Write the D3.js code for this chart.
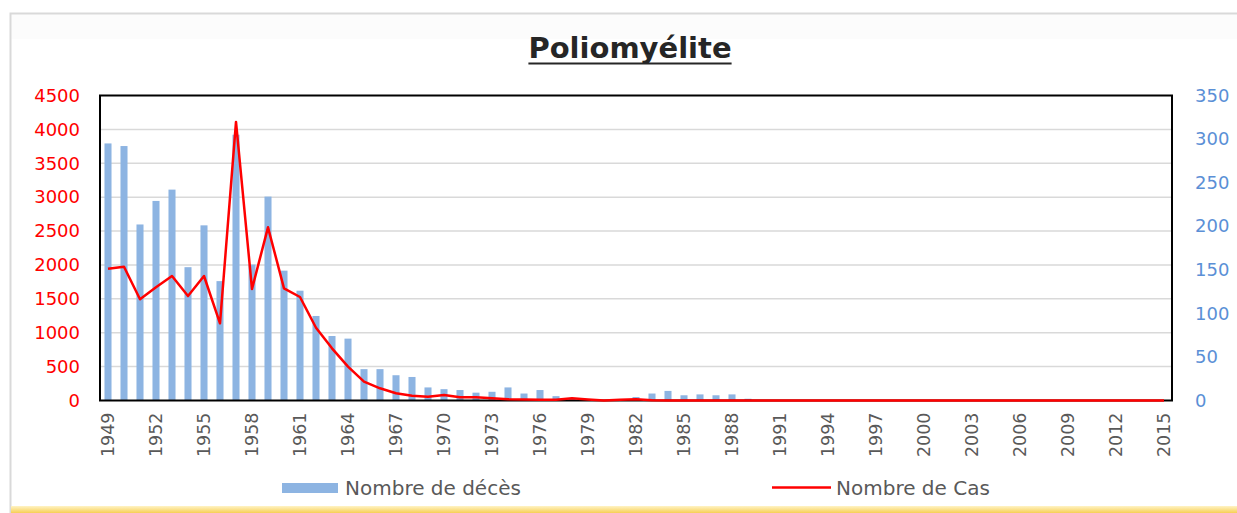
<!DOCTYPE html>
<html>
<head>
<meta charset="utf-8">
<script src="https://cdn.jsdelivr.net/npm/d3@7"></script>
<style>
    body { margin: 0; background: #fff; }
    svg { display: block; font-family: "DejaVu Sans", sans-serif; }
</style>
</head>
<body>
<div id="graph"></div>
<script>
/** Data. */
const YEARS = d3.range(1949, 2016);

// Nombre de décès (bars, right axis)
const DECES = [
    295, 292, 202, 229, 242, 153, 201, 137, 305, 156,
    234, 149, 126, 97, 74, 71, 36, 36, 29, 27,
    15, 13, 12, 9, 10, 15, 8, 12, 5, 2,
    1, 0, 1, 4, 8, 11, 6, 7, 6, 7,
    2, 0, 0, 0, 0, 0, 0, 0, 0, 0,
    0, 0, 0, 0, 0, 0, 0, 0, 0, 0,
    0, 0, 0, 0, 0, 0, 0
];

// Nombre de Cas (line, left axis)
const CAS = [
    1945, 1974, 1493, 1670, 1837, 1542, 1837, 1139, 4110, 1645,
    2555, 1655, 1527, 1074, 770, 499, 278, 180, 106, 71,
    56, 81, 47, 47, 32, 18, 15, 10, 10, 32,
    15, 0, 10, 18, 5, 0, 0, 0, 0, 0,
    0, 0, 0, 0, 0, 0, 0, 0, 0, 0,
    0, 0, 0, 0, 0, 0, 0, 0, 0, 0,
    0, 0, 0, 0, 0, 0, 0
];

const LEFT_TICKS = d3.range(0, 4501, 500);
const RIGHT_TICKS = d3.range(0, 351, 50);
const X_TICKS = YEARS.filter((y) => (y - 1949) % 3 === 0);

const TITLE = "Poliomyélite";
const LEGEND = ["Nombre de décès", "Nombre de Cas"];

/** Layout. */
const WIDTH = 1237;
const HEIGHT = 513;
const PLOT = {left: 100, right: 1172, top: 95.5, bottom: 400.5};

const BAR_COLOR = "#8db4e2";
const LINE_COLOR = "#ff0000";
const GRID_COLOR = "#d9d9d9";
const TEXT_COLOR = "#595959";
const RIGHT_COLOR = "#5b8fd6";

const x = d3.scaleBand()
    .domain(YEARS)
    .range([PLOT.left, PLOT.right])
    .paddingInner(0.56)
    .paddingOuter(0.28);
const yLeft = d3.scaleLinear()
    .domain([0, 4500])
    .range([PLOT.bottom, PLOT.top]);
const yRight = d3.scaleLinear()
    .domain([0, 350])
    .range([PLOT.bottom, PLOT.top]);

const svg = d3.select("#graph")
    .append("svg")
    .attr("width", WIDTH)
    .attr("height", HEIGHT);

// Background, outer frame and the yellow strip at the bottom.
const defs = svg.append("defs");
const grad = defs.append("linearGradient")
    .attr("id", "strip")
    .attr("x1", 0).attr("x2", 0).attr("y1", 0).attr("y2", 1);
grad.append("stop").attr("offset", "0%").attr("stop-color", "#fff3c4");
grad.append("stop").attr("offset", "100%").attr("stop-color", "#f7cf55");

svg.append("rect")
    .attr("width", WIDTH)
    .attr("height", HEIGHT)
    .attr("fill", "#fff");
svg.append("rect")
    .attr("x", 10).attr("y", 13)
    .attr("width", WIDTH + 10).attr("height", 26)
    .attr("fill", "#fcfcfc");
svg.append("path")
    .attr("d", `M10.5,${HEIGHT} V13.5 H${WIDTH}`)
    .attr("fill", "none")
    .attr("stroke", GRID_COLOR)
    .attr("stroke-width", 2);
svg.append("rect")
    .attr("x", 11).attr("y", 506)
    .attr("width", WIDTH).attr("height", 7)
    .attr("fill", "url(#strip)");

// Title
const title = svg.append("text")
    .attr("x", 630)
    .attr("y", 58)
    .attr("text-anchor", "middle")
    .attr("font-size", 29)
    .attr("font-weight", "bold")
    .attr("fill", "#262626")
    .text(TITLE);
const tb = title.node().getBBox();
svg.append("line")
    .attr("x1", tb.x).attr("x2", tb.x + tb.width)
    .attr("y1", 63.5).attr("y2", 63.5)
    .attr("stroke", "#262626")
    .attr("stroke-width", 2);

// Gridlines (left axis steps)
svg.append("g")
    .selectAll("line")
    .data(LEFT_TICKS.slice(1, -1))
    .join("line")
    .attr("x1", PLOT.left).attr("x2", PLOT.right)
    .attr("y1", (d) => yLeft(d)).attr("y2", (d) => yLeft(d))
    .attr("stroke", GRID_COLOR)
    .attr("stroke-width", 1.5);

// Bars
svg.append("g")
    .selectAll("rect")
    .data(YEARS.map((year, i) => ({year, v: DECES[i]})))
    .join("rect")
    .attr("x", (d) => x(d.year))
    .attr("width", x.bandwidth())
    .attr("y", (d) => yRight(d.v))
    .attr("height", (d) => yRight(0) - yRight(d.v))
    .attr("fill", BAR_COLOR);

// Frame
svg.append("rect")
    .attr("x", PLOT.left).attr("y", PLOT.top)
    .attr("width", PLOT.right - PLOT.left)
    .attr("height", PLOT.bottom - PLOT.top)
    .attr("fill", "none")
    .attr("stroke", "#000")
    .attr("stroke-width", 2);

// Line
const casLine = d3.line()
    .curve(d3.curveLinear)
    .x((d) => x(d.year) + x.bandwidth() / 2)
    .y((d) => yLeft(d.v));
svg.append("path")
    .datum(YEARS.map((year, i) => ({year, v: CAS[i]})))
    .attr("d", casLine)
    .attr("fill", "none")
    .attr("stroke", LINE_COLOR)
    .attr("stroke-width", 2.5)
    .attr("stroke-linejoin", "round");

// Axes
const leftAxis = d3.axisLeft(yLeft)
    .tickValues(LEFT_TICKS)
    .tickFormat(d3.format("d"))
    .tickSize(0)
    .tickPadding(20);
const gl = svg.append("g")
    .attr("transform", `translate(${PLOT.left},0)`)
    .call(leftAxis);
gl.select(".domain").remove();
gl.selectAll("text")
    .attr("font-size", 18)
    .attr("font-family", "DejaVu Sans")
    .attr("fill", LINE_COLOR);

const rightAxis = d3.axisRight(yRight)
    .tickValues(RIGHT_TICKS)
    .tickFormat(d3.format("d"))
    .tickSize(0)
    .tickPadding(23);
const gr = svg.append("g")
    .attr("transform", `translate(${PLOT.right},0)`)
    .call(rightAxis);
gr.select(".domain").remove();
gr.selectAll("text")
    .attr("font-size", 18)
    .attr("font-family", "DejaVu Sans")
    .attr("fill", RIGHT_COLOR);

const xAxis = d3.axisBottom(x)
    .tickValues(X_TICKS)
    .tickSize(0)
    .tickPadding(0);
const gx = svg.append("g")
    .attr("transform", `translate(0,${PLOT.bottom})`)
    .call(xAxis);
gx.select(".domain").remove();
gx.selectAll("text")
    .attr("font-size", 17.5)
    .attr("font-family", "DejaVu Sans")
    .attr("fill", TEXT_COLOR)
    .attr("text-anchor", "end")
    .attr("transform", "rotate(-90)")
    .attr("x", -12)
    .attr("y", 0)
    .attr("dy", "0.35em");

// Legend
const legend = svg.append("g")
    .attr("font-size", 20)
    .attr("fill", TEXT_COLOR);
legend.append("rect")
    .attr("x", 282).attr("y", 483)
    .attr("width", 56).attr("height", 10)
    .attr("fill", BAR_COLOR);
legend.append("text")
    .attr("x", 345).attr("y", 495)
    .text(LEGEND[0]);
legend.append("line")
    .attr("x1", 772).attr("x2", 831)
    .attr("y1", 487.5).attr("y2", 487.5)
    .attr("stroke", LINE_COLOR)
    .attr("stroke-width", 2.5);
legend.append("text")
    .attr("x", 836).attr("y", 495)
    .text(LEGEND[1]);
</script>
</body>
</html>
